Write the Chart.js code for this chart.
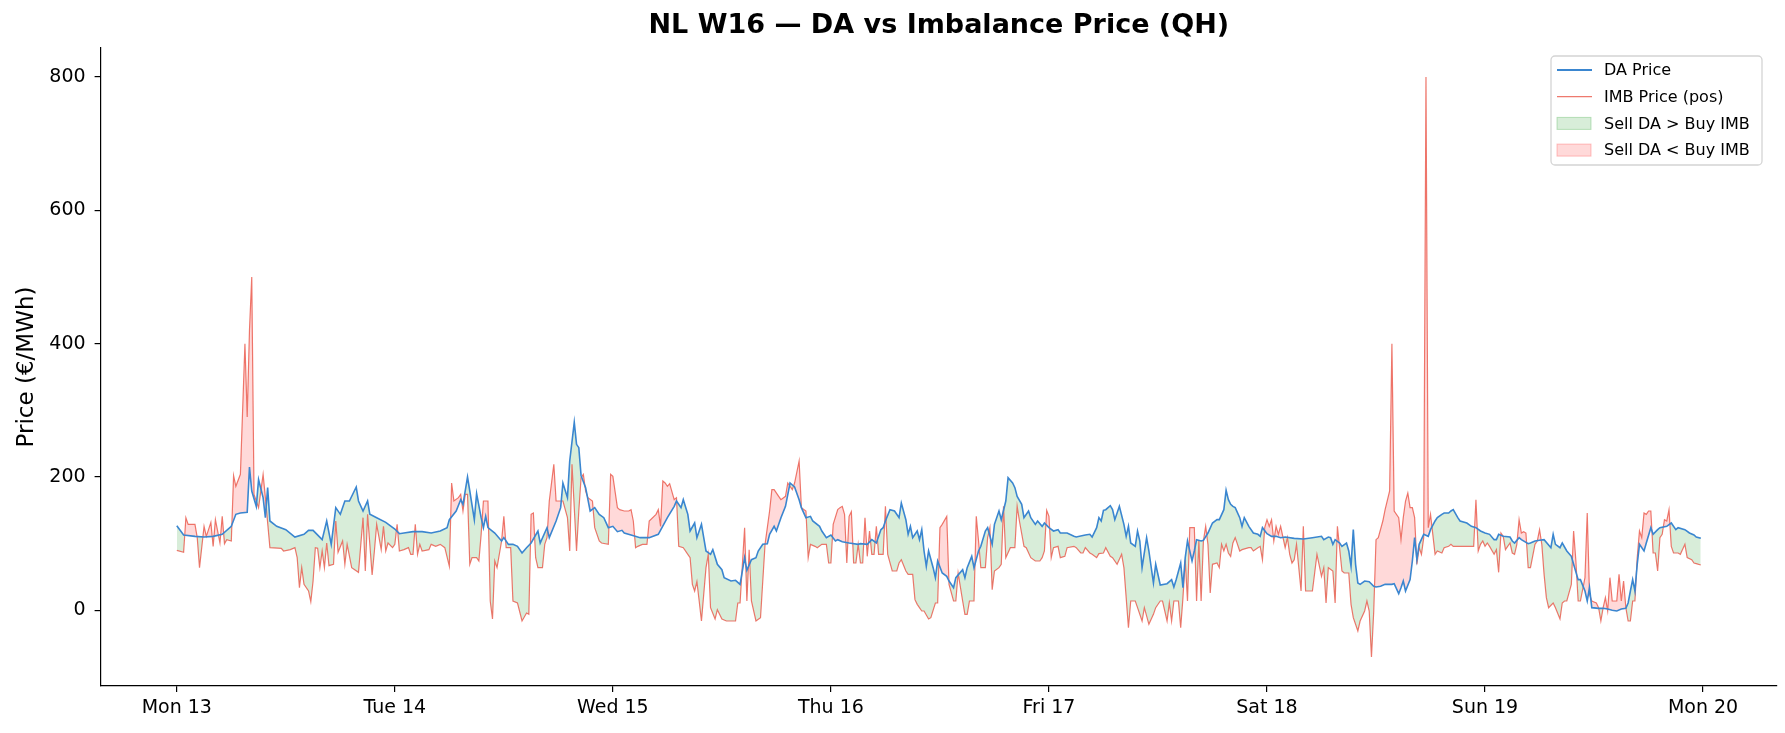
<!DOCTYPE html>
<html>
<head>
<meta charset="utf-8">
<script src="https://cdn.jsdelivr.net/npm/chart.js@4.4.1/dist/chart.umd.min.js"></script>
<style>
  html, body { margin: 0; padding: 0; background: #fff; }
</style>
</head>
<body>
<canvas id="price-chart" width="1785" height="733"></canvas>
<script>
// x = quarter-hour index since Mon 13 00:00 (96 per day)

var daQh = [
  0, 3, 8, 12, 16, 20, 24, 26, 28, 31, 32, 33, 35, 36, 38, 39, 40, 41, 44, 48, 52, 56, 58, 60, 64, 66, 68, 70, 72, 74, 76, 79, 80, 82, 84, 85, 88, 92,
  96, 98, 100, 104, 108, 112, 116, 119, 120, 123, 125, 126, 128, 129, 131, 132, 134, 135, 136, 137, 140, 143, 144, 146, 148, 150, 152, 154, 156, 159, 160, 163, 164, 167, 169, 170, 172, 173, 175, 176, 177, 178, 180, 182, 184, 186, 188, 190,
  192, 194, 196, 197, 200, 204, 208, 212, 216, 219, 220, 222, 223, 225, 226, 228, 229, 231, 232, 233, 235, 236, 238, 240, 241, 244, 246, 248, 250, 251, 253, 255, 256, 258, 260, 261, 263, 264, 266, 268, 270, 272, 274, 275, 277, 279, 280, 283, 284, 286,
  288, 290, 291, 293, 296, 300, 301, 304, 306, 308, 310, 311, 312, 314, 316, 318, 319, 321, 322, 323, 324, 326, 327, 328, 329, 330, 331, 333, 334, 335, 337, 339, 340, 342, 343, 346, 347, 348, 350, 351, 353, 354, 356, 357, 359, 360, 362, 363, 365, 366, 368, 369, 370, 372, 373, 375, 376, 378, 379, 381, 382,
  384, 386, 388, 389, 392, 395, 396, 400, 402, 403, 405, 406, 407, 408, 409, 411, 412, 413, 415, 417, 418, 419, 420, 422, 423, 424, 425, 427, 428, 430, 431, 433, 436, 438, 439, 440, 442, 443, 444, 445, 447, 448, 449, 451, 452, 454, 456, 458, 459, 461, 462, 463, 464, 465, 466, 468, 469, 470, 472, 474, 476, 477, 478,
  480, 482, 484, 486, 488, 492, 496, 500, 504, 505, 507, 508, 509, 510, 512, 513, 515, 516, 517, 518, 519, 520, 521, 523, 525, 527, 528, 530, 532, 535, 536, 538, 539, 540, 541, 543, 544, 545, 546, 547, 549, 551, 552, 554, 555, 557, 558, 560, 561, 562, 564, 565, 568, 570, 572, 574,
  576, 578, 580, 581, 582, 584, 587, 588, 589, 591, 592, 595, 596, 598, 600, 602, 605, 606, 607, 609, 610, 612, 614, 615, 617, 618, 620, 621, 622, 623, 626, 628, 630, 632, 634, 636, 638, 639, 640, 641, 642, 643, 644, 646, 647, 649, 650, 652, 653, 656, 658, 660, 661, 664, 666, 668, 669, 671
];
// day-ahead price, EUR/MWh
var daPrice = [
  127, 113, 111, 110, 111, 114, 126, 144, 146, 147, 215, 179, 156, 196, 169, 139, 184, 134, 126, 121, 110, 114, 120, 120, 106, 134, 99, 154, 144, 164, 164, 185, 164, 149, 164, 144, 139, 132,
  122, 115, 116, 118, 118, 116, 119, 124, 136, 149, 166, 159, 200, 179, 136, 175, 139, 124, 141, 124, 116, 104, 109, 99, 99, 96, 86, 94, 101, 119, 101, 124, 109, 134, 154, 191, 169, 224, 282, 249, 244, 202, 184, 149, 154, 144, 139, 124,
  126, 118, 120, 116, 113, 109, 109, 114, 139, 156, 164, 154, 166, 144, 119, 131, 109, 129, 109, 89, 84, 91, 69, 61, 49, 44, 45, 39, 79, 60, 76, 79, 89, 99, 100, 114, 126, 119, 139, 156, 191, 185, 166, 154, 139, 141, 134, 126, 119, 109,
  113, 104, 106, 103, 101, 99, 100, 99, 106, 101, 121, 124, 134, 151, 149, 139, 161, 136, 114, 126, 109, 119, 106, 121, 89, 66, 89, 64, 49, 74, 56, 51, 44, 34, 49, 61, 49, 64, 81, 64, 89, 96, 119, 124, 99, 129, 149, 136, 164, 199, 191, 184, 171, 159, 139, 149, 139, 129, 134, 126, 131,
  124, 119, 121, 116, 116, 111, 110, 113, 114, 110, 124, 139, 134, 150, 151, 157, 151, 136, 156, 129, 111, 126, 101, 96, 119, 104, 64, 109, 89, 41, 69, 38, 40, 46, 35, 46, 71, 34, 79, 104, 74, 89, 106, 104, 105, 116, 131, 136, 136, 151, 180, 166, 159, 156, 154, 139, 126, 139, 126, 116, 114, 111, 124,
  115, 111, 111, 109, 110, 108, 107, 109, 111, 106, 110, 109, 99, 106, 101, 96, 101, 89, 66, 121, 69, 41, 39, 44, 43, 36, 35, 36, 39, 39, 40, 25, 34, 44, 29, 46, 74, 109, 76, 99, 114, 111, 121, 134, 139, 144, 146, 146, 149, 151, 139, 134, 131, 126, 124, 119,
  116, 114, 106, 106, 114, 111, 110, 104, 101, 109, 106, 100, 101, 104, 105, 106, 94, 114, 99, 94, 101, 89, 81, 69, 46, 46, 29, 14, 34, 4, 3, 3, 2, 0, -1, 2, 3, 11, 29, 46, 29, 69, 99, 89, 101, 124, 114, 121, 124, 126, 131, 121, 124, 121, 116, 113, 110, 108
];

var imbQh = [
  0, 3, 4, 5, 8, 9, 10, 12, 13, 15, 16, 17, 19, 20, 21, 22, 24, 25, 26, 28, 30, 31, 32, 33, 34, 36, 38, 39, 41, 46, 47, 50, 52, 53, 54, 55, 56, 58, 59, 60, 61, 62, 63, 64, 65, 66, 67, 69, 70, 71, 73, 74, 75, 77, 80, 82, 83, 84, 86, 87, 88, 90, 91, 92, 93, 95,
  96, 97, 98, 100, 102, 103, 104, 105, 106, 107, 108, 111, 112, 114, 116, 118, 120, 121, 122, 124, 125, 126, 127, 128, 129, 130, 132, 133, 134, 135, 137, 138, 139, 140, 141, 143, 144, 145, 147, 148, 150, 152, 154, 155, 156, 157, 158, 159, 161, 162, 163, 164, 166, 167, 169, 170, 172, 173, 174, 176, 177, 178, 179, 180, 181, 183, 184, 186, 187, 190, 191,
  192, 194, 195, 197, 199, 200, 201, 202, 203, 205, 207, 208, 211, 212, 213, 214, 215, 216, 217, 219, 220, 221, 223, 225, 226, 227, 228, 229, 230, 231, 233, 234, 235, 237, 238, 240, 242, 246, 247, 248, 250, 251, 252, 253, 255, 257, 259, 261, 262, 263, 265, 266, 268, 269, 271, 272, 274, 275, 277, 278, 279, 281, 282, 284, 286, 287,
  288, 289, 291, 292, 293, 294, 295, 296, 297, 298, 299, 300, 301, 302, 303, 304, 305, 306, 307, 308, 309, 311, 312, 313, 315, 317, 318, 319, 321, 322, 324, 325, 326, 328, 329, 331, 332, 334, 335, 336, 337, 339, 340, 342, 343, 344, 346, 347, 348, 349, 351, 352, 353, 354, 356, 357, 358, 359, 360, 362, 363, 364, 365, 367, 369, 370, 371, 373, 374, 376, 378, 380, 381, 382, 383,
  384, 385, 386, 388, 389, 391, 392, 395, 396, 398, 399, 400, 402, 403, 405, 406, 408, 409, 411, 412, 414, 416, 417, 419, 420, 422, 423, 425, 426, 428, 430, 431, 433, 434, 436, 437, 438, 439, 441, 442, 443, 444, 445, 446, 448, 449, 450, 451, 452, 453, 454, 455, 456, 458, 459, 460, 461, 462, 463, 464, 465, 466, 468, 469, 472, 473, 474, 476, 477, 478, 479,
  480, 481, 482, 483, 484, 485, 486, 488, 489, 490, 491, 492, 493, 495, 496, 497, 500, 502, 504, 505, 506, 507, 509, 510, 511, 513, 514, 516, 517, 518, 520, 521, 523, 524, 525, 526, 527, 528, 529, 531, 532, 534, 535, 536, 538, 539, 540, 541, 542, 543, 544, 545, 546, 547, 548, 549, 550, 551, 552, 554, 555, 557, 558, 560, 561, 562, 565, 570, 571, 572, 573, 574, 575,
  576, 577, 578, 580, 581, 582, 583, 584, 585, 587, 588, 589, 590, 591, 592, 593, 594, 595, 596, 598, 599, 600, 601, 602, 603, 604, 606, 607, 609, 610, 611, 612, 614, 615, 616, 617, 618, 620, 621, 622, 623, 625, 626, 627, 628, 629, 630, 631, 632, 634, 635, 636, 637, 638, 639, 640, 641, 642, 643, 644, 645, 646, 647, 648, 649, 650, 651, 652, 653, 654, 655, 656, 657, 658, 659, 661, 662, 664, 665, 667, 668, 669, 671
];
// imbalance price (positive), EUR/MWh
var imbPrice = [
  90, 87, 139, 129, 129, 109, 64, 126, 111, 132, 96, 136, 101, 141, 100, 106, 104, 202, 186, 204, 400, 290, 420, 500, 174, 154, 204, 169, 94, 93, 89, 91, 94, 79, 34, 64, 39, 29, 13, 44, 94, 93, 64, 89, 64, 101, 67, 69, 134, 87, 104, 69, 99, 64, 57, 139, 59, 144, 53, 89, 129, 91, 126, 89, 101, 94,
  99, 129, 89, 91, 94, 84, 84, 129, 84, 99, 89, 91, 99, 96, 99, 94, 66, 191, 164, 169, 174, 149, 174, 174, 69, 79, 79, 74, 114, 164, 164, 14, -13, 74, 64, 104, 141, 94, 94, 14, 11, -16, -4, -6, 144, 146, 79, 64, 64, 99, 109, 164, 219, 164, 164, 164, 139, 89, 219, 89, 149, 199, 204, 179, 169, 164, 124, 104, 101, 99, 204,
  201, 154, 151, 149, 149, 151, 134, 94, 96, 99, 99, 134, 144, 151, 126, 194, 191, 186, 190, 166, 169, 96, 94, 84, 79, 39, 29, 43, 14, -16, 64, 84, 4, -13, 1, -13, -16, -16, 11, 11, 124, 14, 91, 14, -16, -11, 99, 149, 181, 181, 171, 166, 171, 191, 181, 191, 224, 154, 149, 79, 99, 96, 94, 99, 99, 71,
  71, 129, 151, 154, 156, 144, 71, 141, 148, 71, 71, 99, 71, 71, 139, 81, 119, 84, 84, 126, 84, 84, 156, 84, 59, 59, 71, 76, 59, 54, 54, 16, 9, -1, -1, -13, -11, 11, 11, 124, 129, 141, 39, 14, 14, 56, 14, -6, -6, 14, 14, 141, 104, 64, 64, 109, 124, 31, 59, 64, 69, 156, 79, 94, 94, 156, 134, 96, 94, 79, 74, 74, 79, 89, 150,
  141, 79, 94, 96, 79, 81, 94, 96, 94, 86, 86, 94, 86, 84, 79, 85, 86, 94, 81, 79, 69, 84, 64, -26, 14, 14, 4, -16, 4, -21, -6, 4, 14, 14, -16, 11, -16, 14, 14, -26, 19, 76, 14, 124, 124, 14, 104, 14, 104, 126, 99, 26, 69, 71, 64, 99, 89, 99, 86, 81, 101, 109, 89, 91, 94, 94, 89, 94, 96, 76, 124,
  136, 126, 136, 104, 126, 114, 126, 94, 109, 84, 71, 76, 99, 29, 126, 29, 29, 84, 51, 64, 11, 64, 59, 11, 126, 59, 56, 56, 9, -11, -31, -16, -1, 14, -1, -70, -1, 106, 109, 134, 151, 179, 400, 149, 139, 106, 139, 164, 176, 154, 154, 139, 69, 94, 84, 109, 800, 124, 144, 84, 89, 86, 94, 96, 99, 96, 96, 96, 96, 166, 89, 99, 104,
  96, 101, 96, 84, 91, 57, 116, 111, 91, 101, 86, 84, 99, 136, 116, 118, 116, 64, 64, 99, 104, 121, 99, 54, 19, 4, 11, 4, -13, 11, 14, 14, 39, 119, 74, 14, 14, 49, 146, 24, 14, 11, 4, -16, 4, 19, -1, 49, 14, 14, 54, 14, 44, 4, -16, -16, 14, 14, 79, 119, 109, 146, 144, 149, 149, 86, 86, 59, 109, 114, 136, 134, 151, 96, 86, 86, 84, 99, 79, 76, 71, 70, 68
];

var dayTicks = [0, 96, 192, 288, 384, 480, 576, 672];
var dayLabels = ['Mon 13', 'Tue 14', 'Wed 15', 'Thu 16', 'Fri 17', 'Sat 18', 'Sun 19', 'Mon 20'];
var priceTicks = [0, 200, 400, 600, 800];

var DA_COLOR = '#3a86d0';
var IMB_COLOR = 'rgba(232, 76, 61, 0.75)';
var GREEN_FILL = 'rgba(76, 175, 80, 0.22)';
var RED_FILL = 'rgba(255, 80, 80, 0.22)';

Chart.defaults.font.family = "'DejaVu Sans', sans-serif";
Chart.defaults.color = '#000';

function points(xs, ys) {
  return xs.map(function (q, i) { return { x: q, y: ys[i] }; });
}

// title centred over the plot area
var plotTitle = {
  id: 'plotTitle',
  afterDraw: function (chart) {
    var a = chart.chartArea, c = chart.ctx;
    c.save();
    c.font = 'bold 27px "DejaVu Sans"';
    c.fillStyle = '#000';
    c.textAlign = 'center';
    c.textBaseline = 'middle';
    c.fillText('NL W16 \u2014 DA vs Imbalance Price (QH)', (a.left + a.right) / 2, 26);
    c.restore();
  }
};

// matplotlib-style legend box, upper right inside the axes
var legendBox = {
  id: 'legendBox',
  afterDraw: function (chart) {
    var a = chart.chartArea, c = chart.ctx;
    var w = 211, h = 109;
    var x = a.right - 15 - w, y = a.top + 8;
    var items = [
      { text: 'DA Price', line: DA_COLOR, lw: 1.8 },
      { text: 'IMB Price (pos)', line: IMB_COLOR, lw: 1.3 },
      { text: 'Sell DA > Buy IMB', fill: GREEN_FILL, edge: 'rgba(76, 175, 80, 0.35)' },
      { text: 'Sell DA < Buy IMB', fill: RED_FILL, edge: 'rgba(255, 80, 80, 0.35)' }
    ];
    c.save();
    c.beginPath();
    c.roundRect(x, y, w, h, 4);
    c.fillStyle = 'rgba(255, 255, 255, 0.8)';
    c.fill();
    c.strokeStyle = '#d4d4d4';
    c.lineWidth = 1.3;
    c.stroke();
    c.font = '16px "DejaVu Sans"';
    c.textBaseline = 'middle';
    c.textAlign = 'left';
    items.forEach(function (it, i) {
      var cy = y + 14 + i * 26.7;
      if (it.line) {
        c.beginPath();
        c.moveTo(x + 6, cy);
        c.lineTo(x + 41, cy);
        c.strokeStyle = it.line;
        c.lineWidth = it.lw;
        c.stroke();
      } else {
        c.fillStyle = it.fill;
        c.fillRect(x + 6, cy - 6, 34, 12);
        c.strokeStyle = it.edge;
        c.lineWidth = 1;
        c.strokeRect(x + 6, cy - 6, 34, 12);
      }
      c.fillStyle = '#000';
      c.fillText(it.text, x + 53, cy + 1);
    });
    c.restore();
  }
};

var ctx = document.getElementById('price-chart').getContext('2d');

var priceChart = new Chart(ctx, {
  type: 'line',
  data: {
    datasets: [{
      label: 'DA Price',
      data: points(daQh, daPrice),
      borderColor: DA_COLOR,
      borderWidth: 1.6,
      pointRadius: 0,
      fill: false
    }, {
      label: 'IMB Price (pos)',
      data: points(imbQh, imbPrice),
      borderColor: IMB_COLOR,
      borderWidth: 1.2,
      pointRadius: 0,
      // IMB above DA -> red, below -> green
      fill: { target: 0, above: RED_FILL, below: GREEN_FILL }
    }]
  },
  options: {
    responsive: false,
    devicePixelRatio: 1,
    animation: false,
    layout: { padding: { top: 48, right: 8, left: 0, bottom: 0 } },
    elements: { line: { tension: 0 } },
    plugins: {
      legend: { display: false },
      tooltip: { enabled: false }
    },
    scales: {
      x: {
        type: 'linear',
        min: -33.55,
        max: 704.55,
        afterBuildTicks: function (axis) {
          axis.ticks = dayTicks.map(function (v) { return { value: v }; });
        },
        afterFit: function (axis) { axis.height = 47; },
        ticks: {
          autoSkip: false,
          maxRotation: 0,
          padding: 5,
          font: { size: 19 },
          color: '#000',
          callback: function (v) { return dayLabels[dayTicks.indexOf(v)]; }
        },
        grid: { drawOnChartArea: false, drawTicks: true, tickLength: 6, color: '#000', lineWidth: 1.2 },
        border: { display: true, color: '#000', width: 1.2 }
      },
      y: {
        min: -113.5,
        max: 843.5,
        afterBuildTicks: function (axis) {
          axis.ticks = priceTicks.map(function (v) { return { value: v }; });
        },
        afterFit: function (axis) { axis.width = 100.6; },
        ticks: { padding: 9, font: { size: 19 }, color: '#000' },
        grid: { drawOnChartArea: false, drawTicks: true, tickLength: 6, color: '#000', lineWidth: 1.2 },
        border: { display: true, color: '#000', width: 1.2 },
        title: {
          display: true,
          text: 'Price (\u20ac/MWh)',
          font: { size: 23 },
          color: '#000',
          padding: { top: 13, bottom: 0 }
        }
      }
    }
  },
  plugins: [plotTitle, legendBox]
});
</script>
</body>
</html>
